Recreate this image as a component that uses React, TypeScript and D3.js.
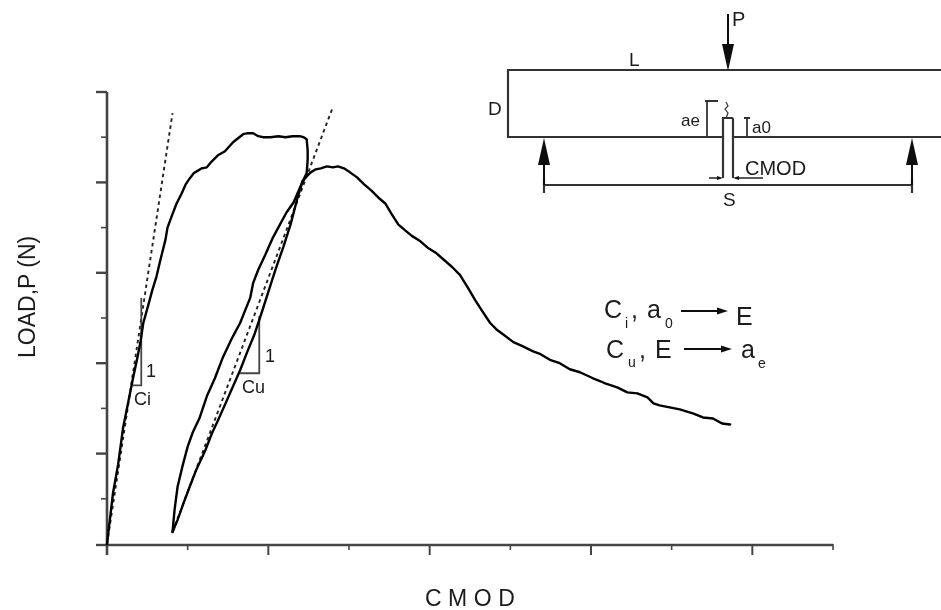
import React from "react";
import * as d3 from "d3";

// CMOD / load readings in chart units (one x minor tick = 80, one y minor tick = 45)
const firstLoadX = [0,6,11,16,21,26,30,33,36,41,45,49,53,58,60,64,69,74,78,82,86,89,94,99,104,110,117,125,130,135,140,145,150,155,162,170,177,184,191,195,198,199,199,198,194];
const firstLoadY = [0,51,79,116,141,166,185,200,220,238,253,266,283,303,315,326,339,349,358,364,369,371,374,375,381,387,391,400,404,408,409,409,406,405,405,406,405,406,406,405,403,392,382,369,361];
const unloadX = [194,185,178,172,164,157,150,145,142,132,124,115,107,99,92,85,80,75,70,67,65];
const unloadY = [361,340,330,319,304,288,273,260,245,220,205,186,165,147,126,111,97,78,57,34,12];
const reloadX = [65,70,76,82,89,97,104,110,118,125,132,139,146,152,160,167,175,182,189,194];
const reloadY = [12,24,41,57,75,92,110,123,141,157,173,191,208,226,251,273,296,318,345,361];
const softenX = [194,198,202,207,212,218,224,229,235,241,248,255,262,269,276,282,289,296,302,310,318,326,334,342,350,358,365,372,380,387,395,403,412,422,430,440,449,459,469,482,494,506,516,526,536,542,548,558,568,581,591,601,610,618];
const softenY = [361,366,370,373,374,376,375,376,374,370,365,358,352,345,339,329,318,312,307,302,295,290,283,276,268,255,243,232,220,213,207,201,197,192,189,183,180,174,171,165,160,156,151,150,146,140,138,136,134,130,126,125,120,119];
const tangentCiX = [0, 65];
const tangentCiY = [0, 429];
const tangentCuX = [65, 224];
const tangentCuY = [12, 435];
const triCiX = [25, 34, 34];
const triCiY = [158, 158, 245];
const triCuX = [132, 151, 151];
const triCuY = [170, 170, 227];

const xTicks = d3.range(0, 721, 80);
const yTicks = d3.range(0, 451, 45);

const x = d3.scaleLinear().domain([0, 720]).range([107, 833]);
const y = d3.scaleLinear().domain([0, 450]).range([544, 92]);
const path = (xs: number[], ys: number[]) =>
  d3.line<number>().x((d) => x(d)).y((_, i) => y(ys[i]))(xs) as string;

const FONT = "'Liberation Sans', Arial, sans-serif";
const INK = "#111";

function Arrow({ x0, y0, x1, y1, w = 6, l = 18, sw = 1.6 }: any) {
  const a = Math.atan2(y1 - y0, x1 - x0);
  const c = Math.cos(a), s = Math.sin(a);
  const bx = x1 - c * l, by = y1 - s * l;
  return (
    <g>
      <line x1={x0} y1={y0} x2={bx} y2={by} stroke={INK} strokeWidth={sw} />
      <path d={`M${x1},${y1}L${bx - s * w},${by + c * w}L${bx + s * w},${by - c * w}Z`} fill={INK} />
    </g>
  );
}

export default function App() {
  const txt = { fontFamily: FONT, fill: "#1a1a1a" };
  return (
    <svg width={941} height={610} style={{ position: "absolute", left: 0, top: 0, background: "#fff" }}>
      <defs>
        <filter id="soft" x="0" y="0" width="941" height="610" filterUnits="userSpaceOnUse">
          <feGaussianBlur stdDeviation="0.7" />
        </filter>
      </defs>
      <g filter="url(#soft)">
        {/* axes */}
        <g stroke="#444" fill="none">
          <line x1={x(0)} x2={x(720)} y1={y(0) + 1} y2={y(0) + 1} strokeWidth={2.6} />
          <line x1={x(0)} x2={x(0)} y1={y(450)} y2={y(0) + 11} strokeWidth={2.6} />
          {xTicks.slice(1).map((t, i) => (
            <line key={t} x1={x(t)} x2={x(t)} y1={y(0)} y2={y(0) + (i % 2 ? 11 : 6)} strokeWidth={i % 2 ? 2 : 1.6} />
          ))}
          {yTicks.slice(1).map((t, i) => (
            <line key={t} y1={y(t)} y2={y(t)} x1={x(0)} x2={x(0) - (i % 2 ? 11 : 6)} strokeWidth={i % 2 ? 2.4 : 1.6} />
          ))}
          <line x1={x(0) - 11} x2={x(0)} y1={y(0) + 1} y2={y(0) + 1} strokeWidth={2.4} />
        </g>

        {/* tangents */}
        <path d={path(tangentCiX, tangentCiY)} fill="none" stroke="#222" strokeWidth={1.9} strokeDasharray="3.5 3.5" />
        <path d={path(tangentCuX, tangentCuY)} fill="none" stroke="#222" strokeWidth={1.9} strokeDasharray="3.5 3.5" />

        {/* slope triangles */}
        <path d={path(triCiX, triCiY)} fill="none" stroke="#444" strokeWidth={1.8} />
        <path d={path(triCuX, triCuY)} fill="none" stroke="#444" strokeWidth={1.8} />

        {/* load curves */}
        {[[firstLoadX, firstLoadY], [unloadX, unloadY], [reloadX, reloadY], [softenX, softenY]].map(([a, b], i) => (
          <path key={i} d={path(a, b)} fill="none" stroke="#000" strokeWidth={2.4} strokeLinejoin="round" strokeLinecap="round" />
        ))}

        {/* slope labels */}
        <text x={146} y={377} fontSize={18} {...txt}>1</text>
        <text x={134} y={405} fontSize={18} {...txt}>Ci</text>
        <text x={265} y={362} fontSize={18} {...txt}>1</text>
        <text x={242} y={393} fontSize={18} {...txt}>Cu</text>

        {/* axis titles */}
        <text transform="translate(35,358) rotate(-90)" fontSize={23} {...txt}>LOAD,P (N)</text>
        <text x={425} y={606} fontSize={23} style={{ letterSpacing: 6.5 }} {...txt}>CMOD</text>

        {/* beam schematic */}
        <g fill="none" stroke="#333" strokeWidth={2.2}>
          <path d="M941,70H508V137H723V118Q723,118 724,118H732Q733,118 733,120V137H941" />
          <path d="M723,137V178M733,137V178" />
          <path d="M544,185H912M544,178V193M912,178V193" />
          <path d="M707,101V137M705,101H718M704,137H710M747,118V137M744,118H750M744,137H750" strokeWidth={1.8} />
          <path d="M726,102L728,106L725,109L728,113L726,118" strokeWidth={1.2} />
        </g>
        <Arrow x0={728} y0={14} x1={728} y1={71} w={6} l={27} sw={2} />
        <Arrow x0={544} y0={185} x1={544} y1={138} w={6} l={27} sw={2} />
        <Arrow x0={912} y0={185} x1={912} y1={138} w={6} l={27} sw={2} />
        <Arrow x0={709} y0={178} x1={723} y1={178} w={2} l={6} sw={1.4} />
        <Arrow x0={763} y0={178} x1={733} y1={178} w={2} l={6} sw={1.4} />
        <text x={732} y={26} fontSize={20} {...txt}>P</text>
        <text x={629} y={66} fontSize={19} {...txt}>L</text>
        <text x={488} y={115} fontSize={19} {...txt}>D</text>
        <text x={681} y={126} fontSize={17} {...txt}>ae</text>
        <text x={752} y={133} fontSize={17} {...txt}>a0</text>
        <text x={745} y={175} fontSize={20} {...txt}>CMOD</text>
        <text x={723} y={206} fontSize={19} {...txt}>S</text>

        {/* relations */}
        <text x={604} y={318} fontSize={25} {...txt}>C</text>
        <text x={625} y={328} fontSize={14} {...txt}>i</text>
        <text x={631} y={318} fontSize={25} {...txt}>,</text>
        <text x={647} y={318} fontSize={25} {...txt}>a</text>
        <text x={665} y={328} fontSize={14} {...txt}>0</text>
        <Arrow x0={681} y0={311} x1={728} y1={311} w={3.5} l={11} sw={2.2} />
        <text x={736} y={325} fontSize={25} {...txt}>E</text>
        <text x={606} y={358} fontSize={25} {...txt}>C</text>
        <text x={628} y={367} fontSize={14} {...txt}>u</text>
        <text x={639} y={358} fontSize={25} {...txt}>,</text>
        <text x={655} y={358} fontSize={25} {...txt}>E</text>
        <Arrow x0={684} y0={349} x1={732} y1={349} w={3.5} l={11} sw={2.2} />
        <text x={741} y={358} fontSize={25} {...txt}>a</text>
        <text x={758} y={368} fontSize={14} {...txt}>e</text>
      </g>
    </svg>
  );
}
